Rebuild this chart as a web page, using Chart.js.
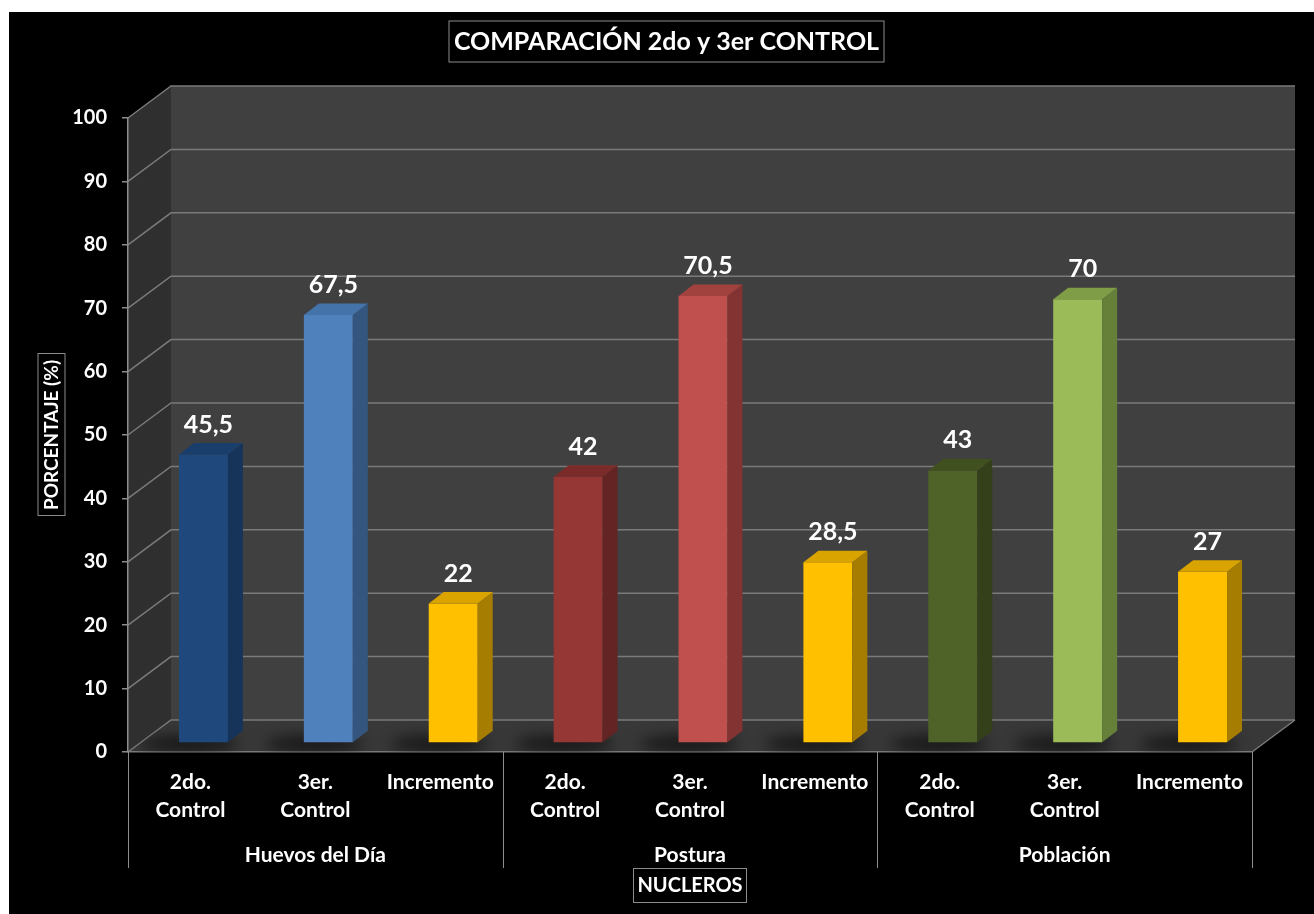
<!DOCTYPE html>
<html lang="es">
<head>
<meta charset="utf-8">
<title>COMPARACIÓN 2do y 3er CONTROL</title>
<script src="https://cdn.jsdelivr.net/npm/chart.js@4.4.1/dist/chart.umd.min.js"></script>
<style>
  html, body { margin: 0; padding: 0; background: #fff; }
  canvas { display: block; }
</style>
</head>
<body>
<canvas id="chart" width="1314" height="914"></canvas>
<script>
// ---- data ----
const chartTitle = 'COMPARACIÓN 2do y 3er CONTROL';
const yTitle = 'PORCENTAJE (%)';
const xTitle = 'NUCLEROS';
const groups = ['Huevos del Día', 'Postura', 'Población'];
const categories = [
  ['2do.', 'Control'], ['3er.', 'Control'], 'Incremento',
  ['2do.', 'Control'], ['3er.', 'Control'], 'Incremento',
  ['2do.', 'Control'], ['3er.', 'Control'], 'Incremento'
];
const values = [45.5, 67.5, 22, 42, 70.5, 28.5, 43, 70, 27];
const yMin = 0, yMax = 100, yStep = 10;

// ---- colours: front, side and top faces of each bar ----
const frontColors = ['#1f497d', '#4f81bd', '#ffc000', '#953735', '#c0504d', '#ffc000', '#4f6228', '#9bbb59', '#ffc000'];
const sideColors  = ['#16335a', '#34557e', '#a67d00', '#632423', '#833432', '#a67d00', '#33401a', '#66803a', '#a67d00'];
const topColors   = ['#1a3e6b', '#4473aa', '#d9a400', '#7b2c2a', '#a2423f', '#d9a400', '#40501f', '#7f9c46', '#d9a400'];

const FONT = 'Lato, "Open Sans", sans-serif';
const WALL = { dx: 43, dy: -32 };      // depth of the back wall
const BAR_SHIFT = { dx: 13, dy: -9 };  // bars stand a little behind the front edge
const BAR_DEPTH = { dx: 15, dy: -11.5 };
const GRID = '#7a7a7a';

function poly(ctx, pts, fill) {
  ctx.beginPath();
  ctx.moveTo(pts[0][0], pts[0][1]);
  for (let i = 1; i < pts.length; i++) ctx.lineTo(pts[i][0], pts[i][1]);
  ctx.closePath();
  ctx.fillStyle = fill;
  ctx.fill();
}

function boxedText(ctx, text, cx, cy, font, padX, h, rotate) {
  ctx.save();
  ctx.translate(cx, cy);
  if (rotate) ctx.rotate(-Math.PI / 2);
  ctx.font = font;
  const w = ctx.measureText(text).width + padX * 2;
  ctx.fillStyle = '#000';
  ctx.fillRect(-w / 2, -h / 2, w, h);
  ctx.strokeStyle = '#8c8c8c';
  ctx.lineWidth = 1;
  ctx.strokeRect(Math.round(-w / 2) + 0.5, Math.round(-h / 2) + 0.5, Math.round(w), Math.round(h));
  ctx.fillStyle = '#fff';
  ctx.textAlign = 'center';
  ctx.textBaseline = 'middle';
  ctx.fillText(text, 0, 1);
  ctx.restore();
}

const scene3d = {
  id: 'scene3d',
  beforeDraw(chart) {
    const { ctx, chartArea: a, scales: { y } } = chart;
    ctx.save();
    ctx.fillStyle = '#fff';
    ctx.fillRect(0, 0, chart.width, chart.height);
    ctx.fillStyle = '#000';
    ctx.fillRect(9, 12, chart.width - 9, chart.height - 12);

    const bl = a.left + WALL.dx, br = a.right + WALL.dx;
    const bt = a.top + WALL.dy, bb = a.bottom + WALL.dy;
    // back wall, side wall, floor
    ctx.fillStyle = '#404040';
    ctx.fillRect(bl, bt, br - bl, bb - bt);
    poly(ctx, [[a.left, a.top], [bl, bt], [bl, bb], [a.left, a.bottom]], '#2f2f2f');
    poly(ctx, [[a.left, a.bottom], [a.right, a.bottom], [br, bb], [bl, bb]], '#383838');

    // grid lines along side wall and back wall
    ctx.strokeStyle = GRID;
    ctx.lineWidth = 1.5;
    y.ticks.forEach(t => {
      const py = y.getPixelForValue(t.value);
      ctx.beginPath();
      ctx.moveTo(a.left, py);
      ctx.lineTo(bl, py + WALL.dy);
      ctx.lineTo(br, py + WALL.dy);
      ctx.stroke();
    });
    // front edge of the floor
    ctx.beginPath();
    ctx.moveTo(a.right, a.bottom);
    ctx.lineTo(br, bb);
    ctx.stroke();
    ctx.restore();
  },
  beforeDatasetsDraw(chart) {
    const { ctx, chartArea: a } = chart;
    const meta = chart.getDatasetMeta(0);
    const bl = a.left + WALL.dx, br = a.right + WALL.dx, bb = a.bottom + WALL.dy;
    // soft shadows on the floor
    ctx.save();
    ctx.beginPath();
    ctx.moveTo(a.left, a.bottom); ctx.lineTo(a.right, a.bottom);
    ctx.lineTo(br, bb); ctx.lineTo(bl, bb); ctx.closePath();
    ctx.clip();
    ctx.filter = 'blur(7px)';
    ctx.fillStyle = 'rgba(0,0,0,0.55)';
    meta.data.forEach(el => {
      const cx = el.x + BAR_SHIFT.dx - 14;
      ctx.beginPath();
      ctx.ellipse(cx, a.bottom + BAR_SHIFT.dy + 1, el.width * 1.0, 9, 0, 0, Math.PI * 2);
      ctx.fill();
    });
    ctx.restore();
    // bars are drawn shifted into the depth of the floor
    ctx.save();
    ctx.translate(BAR_SHIFT.dx, BAR_SHIFT.dy);
  },
  afterDatasetsDraw(chart) {
    const { ctx } = chart;
    const meta = chart.getDatasetMeta(0);
    meta.data.forEach((el, i) => {
      const l = el.x - el.width / 2, r = el.x + el.width / 2;
      const t = el.y, b = el.base;
      const dx = BAR_DEPTH.dx, dy = BAR_DEPTH.dy;
      poly(ctx, [[r, t], [r + dx, t + dy], [r + dx, b + dy], [r, b]], sideColors[i]);
      poly(ctx, [[l, t], [l + dx, t + dy], [r + dx, t + dy], [r, t]], topColors[i]);
    });
    ctx.restore();

    // value labels
    ctx.save();
    ctx.fillStyle = '#fff';
    ctx.font = 'bold 25px ' + FONT;
    ctx.textAlign = 'center';
    ctx.textBaseline = 'middle';
    meta.data.forEach((el, i) => {
      const txt = String(values[i]).replace('.', ',');
      ctx.fillText(txt, el.x + BAR_SHIFT.dx + 5, el.y + BAR_SHIFT.dy - 30);
    });
    ctx.restore();
  },
  afterDraw(chart) {
    const { ctx, chartArea: a, scales: { x } } = chart;
    // chart title
    boxedText(ctx, chartTitle, 666.5, 40.5, 'bold 25px ' + FONT, 5, 41, false);
    // axis title frames
    const ys = chart.scales.y;
    ctx.save();
    boxedText(ctx, yTitle, 50.5, (ys.top + ys.bottom) / 2, 'bold 19px ' + FONT, 6, 27, true);
    boxedText(ctx, xTitle, (a.left + a.right) / 2, 885, 'bold 20px ' + FONT, 4, 34, false);
    ctx.restore();

    // group dividers and group labels
    const n = categories.length, per = n / groups.length;
    const edge = i => i === 0 ? a.left : i === n ? a.right
      : (x.getPixelForValue(i - 1) + x.getPixelForValue(i)) / 2;
    ctx.save();
    ctx.strokeStyle = '#8c8c8c';
    ctx.lineWidth = 1;
    for (let g = 0; g <= groups.length; g++) {
      const px = Math.round(edge(g * per)) + 0.5;
      ctx.beginPath();
      ctx.moveTo(px, a.bottom);
      ctx.lineTo(px, 868);
      ctx.stroke();
    }
    ctx.fillStyle = '#fff';
    ctx.font = 'bold 21px ' + FONT;
    ctx.textAlign = 'center';
    ctx.textBaseline = 'middle';
    groups.forEach((g, k) => {
      const cx = (edge(k * per) + edge((k + 1) * per)) / 2;
      ctx.fillText(g, cx, 855);
    });
    ctx.restore();
  }
};

new Chart(document.getElementById('chart'), {
  type: 'bar',
  data: {
    labels: categories,
    datasets: [{
      data: values,
      backgroundColor: frontColors,
      borderWidth: 0,
      categoryPercentage: 1,
      barPercentage: 0.392,
      clip: false
    }]
  },
  options: {
    responsive: false,
    animation: false,
    events: [],
    layout: { padding: { top: 118, left: 0, right: 62, bottom: 0 } },
    plugins: {
      legend: { display: false },
      tooltip: { enabled: false },
      title: { display: false }
    },
    scales: {
      x: {
        afterFit: s => { s.height = 162; },
        grid: { display: false, drawTicks: false },
        border: { display: true, color: GRID, width: 1.5 },
        ticks: {
          color: '#fff',
          padding: 16,
          maxRotation: 0,
          autoSkip: false,
          font: { family: FONT, size: 21, weight: 'bold', lineHeight: 1.35 }
        },
        title: {
          display: true,
          text: xTitle,
          color: '#fff',
          padding: { top: 0, bottom: 17 },
          font: { family: FONT, size: 20, weight: 'bold', lineHeight: 1.2 }
        }
      },
      y: {
        min: yMin,
        max: yMax,
        afterFit: s => { s.width = 128; },
        grid: { drawOnChartArea: false, drawTicks: true, tickLength: 6, color: '#8c8c8c', lineWidth: 1.5 },
        border: { display: true, color: '#8c8c8c', width: 1.5 },
        ticks: {
          stepSize: yStep,
          color: '#fff',
          padding: 15,
          font: { family: FONT, size: 20, weight: 'bold' }
        },
        title: {
          display: true,
          text: yTitle,
          color: '#fff',
          padding: { top: 38.6, bottom: 0 },
          font: { family: FONT, size: 19, weight: 'bold', lineHeight: 1.2 }
        }
      }
    }
  },
  plugins: [scene3d]
});
</script>
</body>
</html>
